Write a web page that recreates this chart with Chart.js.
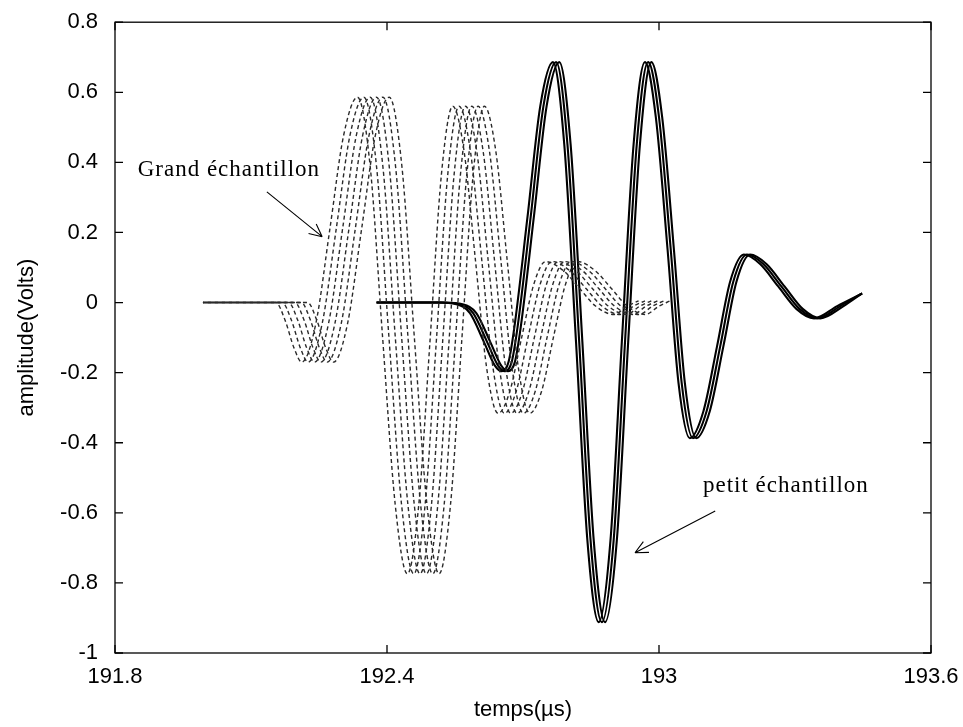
<!DOCTYPE html>
<html>
<head>
<meta charset="utf-8">
<script src="https://cdn.jsdelivr.net/npm/chart.js@4.4.1/dist/chart.umd.min.js"></script>
<style>
  html, body { margin: 0; padding: 0; background: #fff; }
  canvas { display: block; }
</style>
</head>
<body>
<canvas id="chart" width="963" height="727"></canvas>
<script>
// axis ticks
const xTicks = [191.8, 192.4, 193, 193.6];
const yTicks = [-1, -0.8, -0.6, -0.4, -0.2, 0, 0.2, 0.4, 0.6, 0.8];

// petit échantillon : 3 solid traces, same amplitudes
const petitY = [0, 0, 0, -0.005, -0.03, -0.11, -0.18, -0.196, -0.17, -0.07, 0.245, 0.56,
  0.686, 0.452, -0.113, -0.678, -0.912, -0.678, -0.113, 0.452, 0.686, 0.529, 0.15, -0.229,
  -0.387, -0.31, -0.125, 0.06, 0.137, 0.11, 0.046, -0.018, -0.045, -0.01, 0.026];
const petitT1 = [192.377, 192.443, 192.513, 192.553, 192.583, 192.613, 192.638, 192.653, 192.668, 192.681, 192.710, 192.738,
  192.766, 192.791, 192.817, 192.842, 192.867, 192.893, 192.918, 192.944, 192.969, 192.993, 193.019, 193.043,
  193.068, 193.098, 193.128, 193.157, 193.187, 193.223, 193.263, 193.303, 193.342, 193.393, 193.448];
const petitT2 = [192.377, 192.45, 192.52, 192.56, 192.59, 192.62, 192.645, 192.66, 192.675, 192.688, 192.717, 192.745,
  192.773, 192.798, 192.824, 192.849, 192.874, 192.900, 192.925, 192.951, 192.976, 193.000, 193.026, 193.050,
  193.075, 193.105, 193.135, 193.164, 193.194, 193.230, 193.270, 193.310, 193.349, 193.400, 193.448];
const petitT3 = [192.377, 192.457, 192.527, 192.567, 192.597, 192.627, 192.652, 192.667, 192.682, 192.695, 192.724, 192.752,
  192.780, 192.805, 192.831, 192.856, 192.881, 192.907, 192.932, 192.958, 192.983, 193.007, 193.033, 193.057,
  193.082, 193.112, 193.142, 193.171, 193.201, 193.237, 193.277, 193.317, 193.356, 193.407, 193.448];

// grand échantillon : 6 dashed traces, same amplitudes
const grandY = [0, 0, 0, -0.05, -0.13, -0.17, -0.06, 0.21, 0.475, 0.586, 0.387, -0.094,
  -0.575, -0.774, -0.578, -0.107, 0.365, 0.56, 0.432, 0.122, -0.188, -0.316, -0.253, -0.1,
  0.053, 0.117, 0.09, 0.04, -0.01, -0.034, -0.01, 0.005];
const grandT1 = [191.994, 192.08, 192.155, 192.175, 192.195, 192.212, 192.243, 192.274, 192.304, 192.335, 192.363, 192.390,
  192.418, 192.445, 192.470, 192.495, 192.520, 192.545, 192.570, 192.595, 192.620, 192.645, 192.671, 192.697,
  192.724, 192.750, 192.790, 192.825, 192.860, 192.900, 192.930, 192.955];
const grandT2 = [191.994, 192.08, 192.169, 192.189, 192.209, 192.226, 192.257, 192.288, 192.318, 192.349, 192.377, 192.404,
  192.432, 192.459, 192.484, 192.509, 192.534, 192.559, 192.584, 192.609, 192.634, 192.659, 192.685, 192.711,
  192.738, 192.764, 192.804, 192.839, 192.874, 192.914, 192.944, 192.969];
const grandT3 = [191.994, 192.08, 192.183, 192.203, 192.223, 192.240, 192.271, 192.302, 192.332, 192.363, 192.391, 192.418,
  192.446, 192.473, 192.498, 192.523, 192.548, 192.573, 192.598, 192.623, 192.648, 192.673, 192.699, 192.725,
  192.752, 192.778, 192.818, 192.853, 192.888, 192.928, 192.958, 192.983];
const grandT4 = [191.994, 192.08, 192.197, 192.217, 192.237, 192.254, 192.285, 192.316, 192.346, 192.377, 192.405, 192.432,
  192.460, 192.487, 192.512, 192.537, 192.562, 192.587, 192.612, 192.637, 192.662, 192.687, 192.713, 192.739,
  192.766, 192.792, 192.832, 192.867, 192.902, 192.942, 192.972, 192.997];
const grandT5 = [191.994, 192.08, 192.211, 192.231, 192.251, 192.268, 192.299, 192.330, 192.360, 192.391, 192.419, 192.446,
  192.474, 192.501, 192.526, 192.551, 192.576, 192.601, 192.626, 192.651, 192.676, 192.701, 192.727, 192.753,
  192.780, 192.806, 192.846, 192.881, 192.916, 192.956, 192.986, 193.011];
const grandT6 = [191.994, 192.08, 192.225, 192.245, 192.265, 192.282, 192.313, 192.344, 192.374, 192.405, 192.433, 192.460,
  192.488, 192.515, 192.540, 192.565, 192.590, 192.615, 192.640, 192.665, 192.690, 192.715, 192.741, 192.767,
  192.794, 192.820, 192.860, 192.895, 192.930, 192.970, 193.000, 193.025];

// annotations, in data units
const notes = [
  { text: 'Grand échantillon', x: 191.85, y: 0.378, from: [192.135, 0.316], to: [192.257, 0.188] },
  { text: 'petit échantillon', x: 193.097, y: -0.523, from: [193.124, -0.595], to: [192.947, -0.714] }
];

const tickFont = { family: "'Liberation Sans', Arial, sans-serif", size: 22 };

function pts(ts, ys) {
  return ts.map((t, i) => ({ x: t, y: ys[i] }));
}

function solid(ts) {
  return {
    data: pts(ts, petitY),
    borderColor: '#000',
    borderWidth: 2.1,
    pointRadius: 0,
    fill: false,
    cubicInterpolationMode: 'monotone'
  };
}

// each dashed trace gets its own dash phase so the shared flat start looks solid
function dashed(ts, phase) {
  return {
    data: pts(ts, grandY),
    borderColor: '#2a2a2a',
    borderWidth: 1.4,
    borderDash: [4, 3],
    borderDashOffset: phase,
    pointRadius: 0,
    fill: false,
    cubicInterpolationMode: 'monotone'
  };
}

// MATLAB-like box with inward ticks
const framePlugin = {
  id: 'frame',
  afterDatasetsDraw(chart) {
    const { ctx, chartArea: a, scales } = chart;
    ctx.save();
    ctx.strokeStyle = '#000';
    ctx.lineWidth = 1.3;
    ctx.strokeRect(a.left, a.top, a.right - a.left, a.bottom - a.top);
    ctx.beginPath();
    xTicks.forEach((v) => {
      const px = scales.x.getPixelForValue(v);
      ctx.moveTo(px, a.bottom); ctx.lineTo(px, a.bottom - 8);
      ctx.moveTo(px, a.top); ctx.lineTo(px, a.top + 8);
    });
    yTicks.forEach((v) => {
      const py = scales.y.getPixelForValue(v);
      ctx.moveTo(a.left, py); ctx.lineTo(a.left + 8, py);
      ctx.moveTo(a.right, py); ctx.lineTo(a.right - 8, py);
    });
    ctx.stroke();
    ctx.restore();
  }
};

const notePlugin = {
  id: 'notes',
  afterDatasetsDraw(chart) {
    const { ctx, scales } = chart;
    const X = (v) => scales.x.getPixelForValue(v);
    const Y = (v) => scales.y.getPixelForValue(v);
    ctx.save();
    ctx.fillStyle = '#000';
    ctx.strokeStyle = '#000';
    ctx.lineWidth = 1.1;
    ctx.font = "23px 'Liberation Serif', 'DejaVu Serif', serif";
    ctx.letterSpacing = '1px';
    ctx.textBaseline = 'middle';
    notes.forEach((n) => {
      ctx.fillText(n.text, X(n.x), Y(n.y));
      const x0 = X(n.from[0]), y0 = Y(n.from[1]);
      const x1 = X(n.to[0]), y1 = Y(n.to[1]);
      ctx.beginPath();
      ctx.moveTo(x0, y0); ctx.lineTo(x1, y1);
      const ang = Math.atan2(y1 - y0, x1 - x0);
      [0.45, -0.45].forEach((d) => {
        ctx.moveTo(x1, y1);
        ctx.lineTo(x1 - 14 * Math.cos(ang + d), y1 - 14 * Math.sin(ang + d));
      });
      ctx.stroke();
    });
    ctx.restore();
  }
};

new Chart(document.getElementById('chart'), {
  type: 'line',
  data: {
    datasets: [
      dashed(grandT1, 0), dashed(grandT2, 1), dashed(grandT3, 2),
      dashed(grandT4, 3), dashed(grandT5, 4), dashed(grandT6, 5),
      solid(petitT1), solid(petitT2), solid(petitT3)
    ]
  },
  options: {
    responsive: false,
    animation: false,
    events: [],
    layout: { padding: { top: 20, right: 32, left: 0, bottom: 0 } },
    plugins: { legend: { display: false }, tooltip: { enabled: false } },
    scales: {
      x: {
        type: 'linear',
        min: 191.8,
        max: 193.6,
        afterBuildTicks: (s) => { s.ticks = xTicks.map((v) => ({ value: v })); },
        afterFit: (s) => { s.height = 74; },
        grid: { display: false },
        border: { display: false },
        ticks: { color: '#000', font: tickFont, padding: 3, maxRotation: 0, callback: (v) => String(v) },
        title: { display: true, text: 'temps(µs)', color: '#000', font: tickFont, padding: { top: 0 } }
      },
      y: {
        type: 'linear',
        min: -1,
        max: 0.8,
        afterBuildTicks: (s) => { s.ticks = yTicks.map((v) => ({ value: v })); },
        afterFit: (s) => { s.width = 115; },
        grid: { display: false },
        border: { display: false },
        ticks: { color: '#000', font: tickFont, padding: 9, callback: (v) => String(Number(v.toFixed(1))) },
        title: { display: true, text: 'amplitude(Volts)', color: '#000', font: tickFont, padding: { top: 14, bottom: 4 } }
      }
    }
  },
  plugins: [framePlugin, notePlugin]
});
</script>
</body>
</html>
